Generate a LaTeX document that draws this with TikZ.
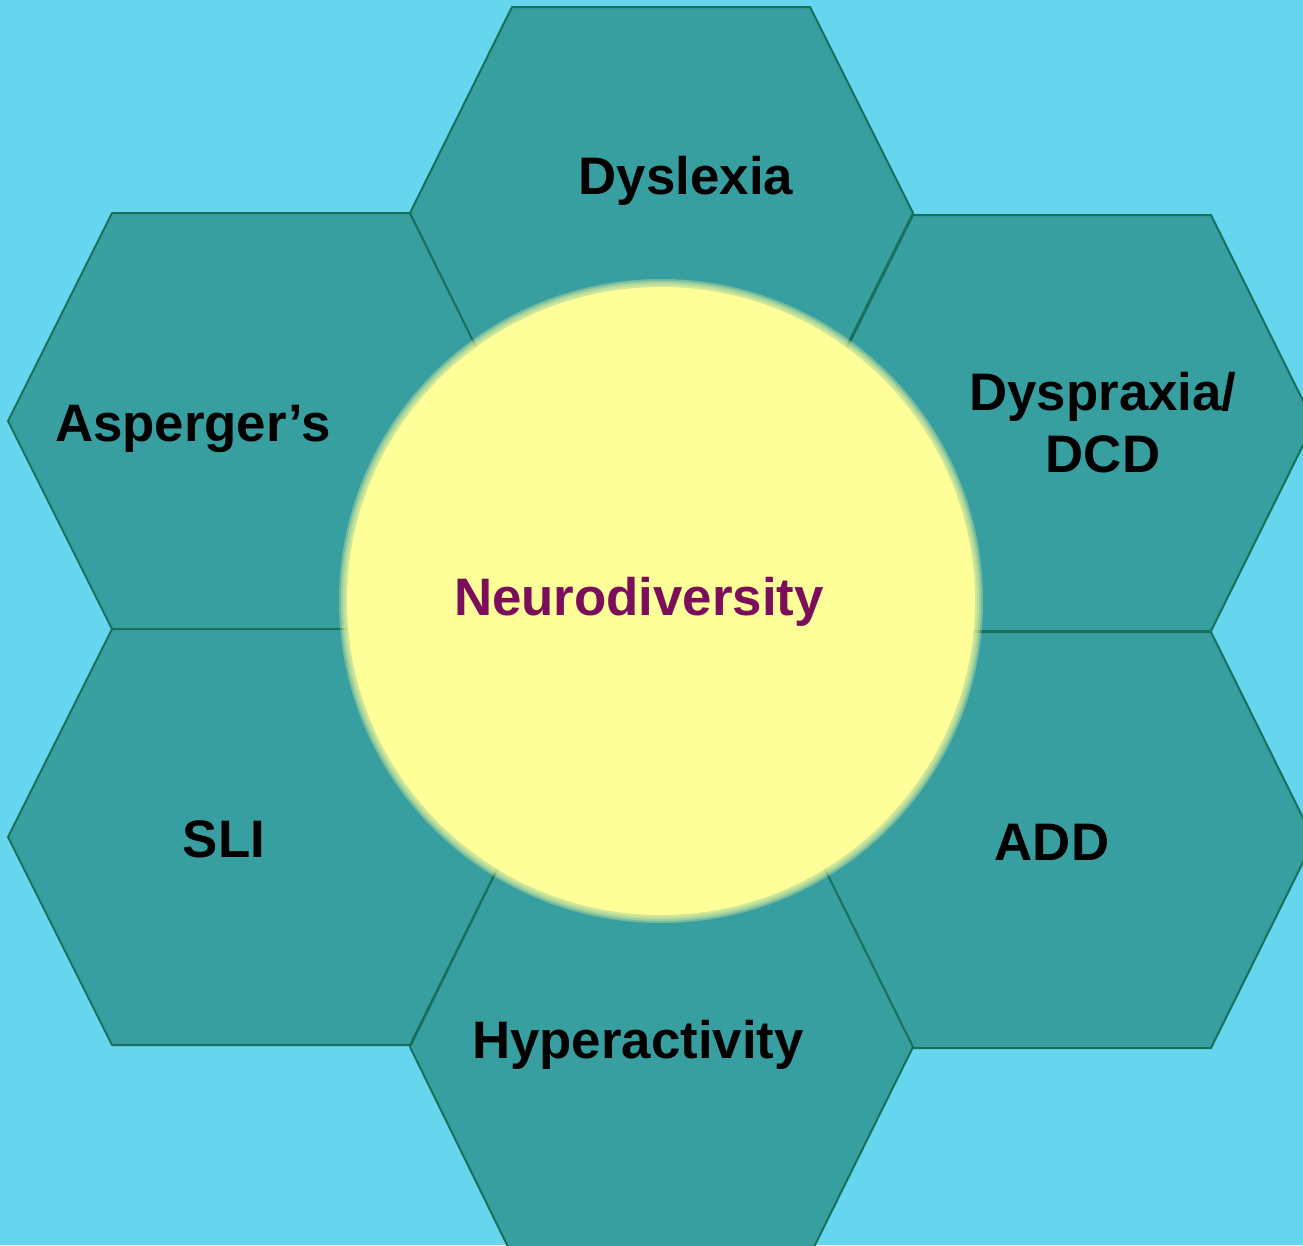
\documentclass[tikz,border=0pt]{standalone}
\usepackage{fontspec}
\setmainfont{Liberation Sans}
\definecolor{bgblue}{HTML}{66D5EE}
\definecolor{hexfill}{HTML}{389FA1}
\definecolor{hexline}{HTML}{17705A}
\definecolor{sunyellow}{HTML}{FFFF99}
\definecolor{ndpurple}{HTML}{7B0D5B}
\begin{document}
\begin{tikzpicture}[x=1pt,y=-1pt,
  hexa/.style={fill=hexfill,draw=hexline,line width=2pt,line join=round},
  lbl/.style={anchor=base,inner sep=0pt,font=\bfseries\fontsize{52.8}{62}\selectfont},
  soft/.style={fill=sunyellow,fill opacity=0.3,draw=none}]
\fill[bgblue] (0,0) rectangle (1303,1245);
\useasboundingbox (0,0) rectangle (1303,1245);
% hexagons
\draw[hexa] (8,421) -- (112,213) -- (410,213) -- (513,421) -- (410,629) -- (112,629) -- cycle;
\draw[hexa] (810,423) -- (913,215) -- (1211,215) -- (1314,423) -- (1211,631) -- (913,631) -- cycle;
\draw[hexa] (8,837) -- (112,629) -- (410,629) -- (513,837) -- (410,1045) -- (112,1045) -- cycle;
\draw[hexa] (810,840) -- (913,632) -- (1211,632) -- (1314,840) -- (1211,1048) -- (913,1048) -- cycle;
\draw[hexa] (410,1047) -- (512,839) -- (810,839) -- (913,1047) -- (810,1255) -- (512,1255) -- cycle;
\draw[hexa] (410,213) -- (512,7) -- (810,7) -- (913,213) -- (810,420) -- (512,420) -- cycle;
% central circle with soft edge
\foreach \r in {322,320,318,316} {\fill[soft] (661,601) circle (\r);}
\fill[sunyellow] (661,601) circle (314);
% labels
\node[lbl] (dys) at (686,194) {Dyslexia};
\node[lbl] (asp) at (193,441) {Asperger’s};
\node[lbl] (dyp) at (1103,410) {Dyspraxia/};
\node[lbl] (dcd) at (1103,472) {DCD};
\node[lbl,text=ndpurple] (neu) at (639,615) {Neurodiversity};
\node[lbl] (sli) at (224,857) {SLI};
\node[lbl] (add) at (1052,860) {ADD};
\node[lbl] (hyp) at (638,1058) {Hyperactivity};
\end{tikzpicture}
\end{document}
